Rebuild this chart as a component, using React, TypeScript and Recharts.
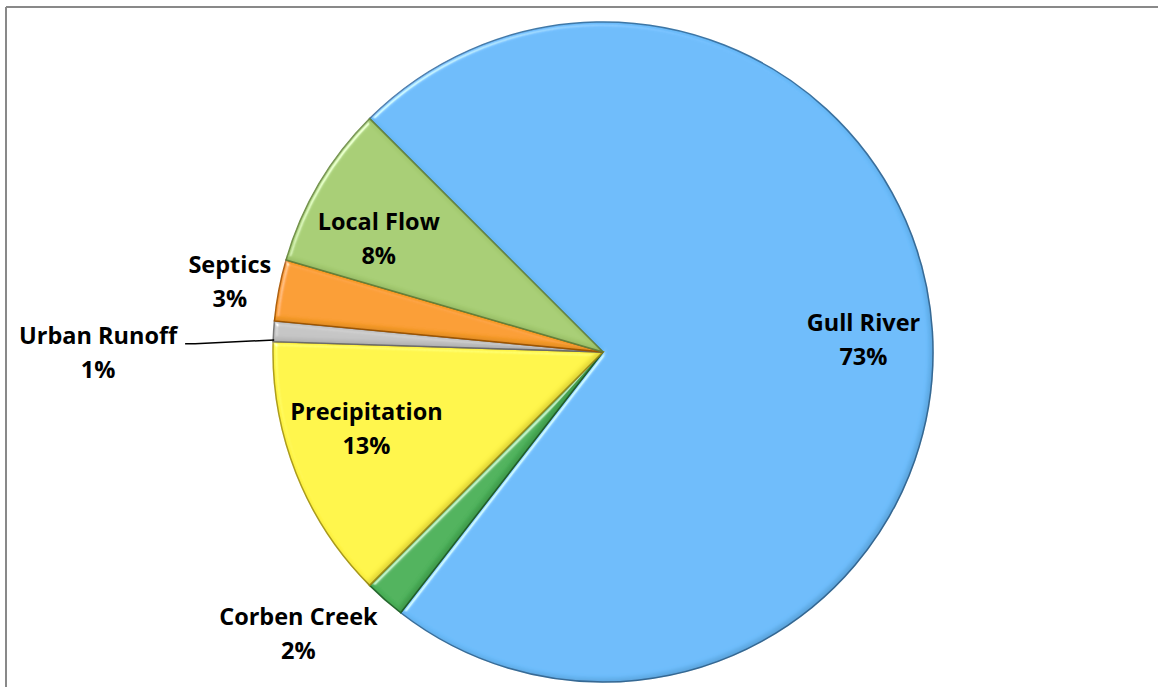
import React from "react";
import { PieChart, Pie, Cell } from "recharts";

const categories = ["Gull River", "Corben Creek", "Precipitation", "Urban Runoff", "Septics", "Local Flow"];
const shares = [73, 2, 13, 1, 3, 8];
const percentLabels = ["73%", "2%", "13%", "1%", "3%", "8%"];

const colors = ["#6BBBFA", "#4BB159", "#FFF445", "#C4C4C4", "#F99C2C", "#A6CD72"];
const strokes = ["#3F78A8", "#2A6F33", "#B0A020", "#7A7A7A", "#B0600C", "#6F9044"];
// label placement: radius factor and angle tweak (deg)
const labelPlace = [
  { rf: 0.79, da: -1.2 },
  { rf: 1.26, da: -5.7 },
  { rf: 0.755, da: -3.3 },
  { rf: 1.53, da: 3.8 },
  { rf: 1.15, da: 0.3 },
  { rf: 0.76, da: 4.0 },
];

const data = categories.map((name, i) => ({ name, value: shares[i], pct: percentLabels[i] }));

const RAD = Math.PI / 180;

const renderLabel = (props: any) => {
  const { cx, cy, midAngle, outerRadius, index } = props;
  const p = labelPlace[index];
  const a = (midAngle + p.da) * RAD;
  const r = outerRadius * p.rf;
  const x = cx + r * Math.cos(a);
  const y = cy - r * Math.sin(a) - 1;
  const d = data[index];
  let leader: React.ReactNode = null;
  if (d.name === "Urban Runoff") {
    const ma = midAngle * RAD;
    const sx = cx + (outerRadius - 1) * Math.cos(ma + 1.5 * RAD);
    const sy = cy - (outerRadius - 1) * Math.sin(ma + 1.5 * RAD);
    leader = (
      <polyline
        points={`${sx},${sy} ${x + 97},${y - 9} ${x + 87},${y - 9}`}
        fill="none"
        stroke="#000"
        strokeWidth={1.5}
      />
    );
  }
  return (
    <g>
      {leader}
      <text
        x={x}
        textAnchor="middle"
        fontFamily="'Open Sans', Lato, sans-serif"
        fontWeight={700}
        fontSize={23.5}
        fill="#000"
      >
        <tspan x={x} y={y - 9}>{d.name}</tspan>
        <tspan x={x} y={y + 25}>{d.pct}</tspan>
      </text>
    </g>
  );
};

export default function App() {
  return (
    <div style={{ position: "absolute", left: 0, top: 0, width: 1158, height: 687, background: "#fff" }}>
      <svg width={1158} height={687} style={{ position: "absolute", left: 0, top: 0 }}>
        <line x1={6} y1={7} x2={1158} y2={7} stroke="#898989" strokeWidth={2} />
        <line x1={6} y1={7} x2={6} y2={687} stroke="#898989" strokeWidth={2} />
      </svg>
      <div style={{ position: "absolute", left: 0, top: 0 }}>
        <PieChart width={1158} height={687}>
          <defs>
            <filter id="bevel" x="-10%" y="-10%" width="120%" height="120%">
              <feGaussianBlur in="SourceAlpha" stdDeviation="2.5" result="blur" />
              <feSpecularLighting in="blur" surfaceScale="4" specularConstant="0.8" specularExponent="30" lightingColor="#ffffff" result="spec">
                <feDistantLight azimuth={225} elevation={35} />
              </feSpecularLighting>
              <feComposite in="spec" in2="SourceAlpha" operator="in" result="specOut" />
              <feComposite in="SourceGraphic" in2="specOut" operator="arithmetic" k1={0} k2={1} k3={0.6} k4={0} result="lit" />
              <feOffset in="blur" dx={-3} dy={-3} result="off" />
              <feComposite in="SourceAlpha" in2="off" operator="out" result="edge" />
              <feFlood floodColor="#000" floodOpacity={0.3} />
              <feComposite operator="in" in2="edge" result="shadow" />
              <feMerge>
                <feMergeNode in="lit" />
                <feMergeNode in="shadow" />
              </feMerge>
            </filter>
          </defs>
          <Pie
            data={data}
            dataKey="value"
            nameKey="name"
            cx={598}
            cy={347}
            outerRadius={330}
            startAngle={135}
            endAngle={-225}
            isAnimationActive={false}
            label={renderLabel}
            labelLine={false}
            stroke="#fff"
            strokeWidth={0}
          >
            {data.map((d, i) => (
              <Cell key={d.name} fill={colors[i]} stroke={strokes[i]} strokeWidth={1.5} filter="url(#bevel)" />
            ))}
          </Pie>
        </PieChart>
      </div>
    </div>
  );
}
